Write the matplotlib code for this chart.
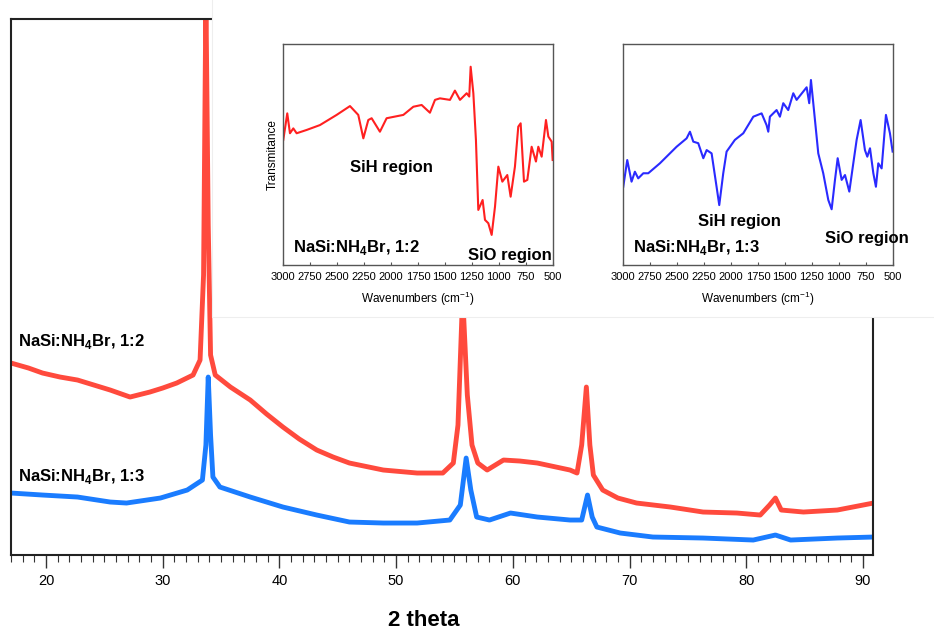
import matplotlib
matplotlib.use("Agg")
import matplotlib.pyplot as plt
from matplotlib.patches import Rectangle

plt.rcParams['font.family'] = ['Liberation Sans', 'DejaVu Sans']
plt.rcParams['mathtext.fontset'] = 'custom'
plt.rcParams['mathtext.rm'] = 'Liberation Sans'
plt.rcParams['mathtext.bf'] = 'Liberation Sans:bold'

# XRD patterns (2 theta, intensity in arbitrary units)
red_tt = [17.0, 18.5, 19.7, 21.2, 22.7, 24.1, 25.5, 27.2, 28.9, 30.0, 31.2, 32.6, 33.2, 33.5,
          33.7, 33.9, 34.1, 34.5, 35.8, 37.5, 38.9, 40.3, 41.7, 43.2, 44.6, 46.0, 48.9, 51.8,
          54.0, 54.9, 55.3, 55.7, 56.1, 56.5, 57.0, 57.8, 59.2, 60.6, 62.1, 64.9, 65.5, 65.9,
          66.3, 66.6, 66.9, 67.7, 69.0, 70.6, 73.5, 76.3, 79.2, 81.2, 82.0, 82.5, 83.0, 84.9,
          87.8, 90.9]
red_int = [192, 187, 182, 178, 175, 170, 165, 158, 163, 167, 172, 180, 195, 280,
           560, 330, 200, 180, 168, 155, 141, 128, 116, 105, 98, 92, 85, 82,
           82, 92, 130, 260, 160, 110, 92, 85, 95, 94, 92, 85, 82, 110,
           168, 110, 80, 65, 57, 52, 48, 43, 42, 40, 50, 57, 45, 43,
           45, 52]

blue_tt = [17.0, 19.7, 22.7, 25.5, 26.9, 29.8, 32.1, 33.4, 33.7, 33.9, 34.1, 34.3, 34.9,
           37.5, 40.3, 43.2, 46.0, 48.9, 51.8, 54.6, 55.5, 56.0, 56.4, 56.9, 58.0, 59.8,
           62.1, 64.9, 65.9, 66.4, 66.8, 67.2, 69.2, 72.0, 76.3, 80.6, 82.5, 83.8, 87.8, 90.9]
blue_int = [62, 60, 58, 53, 52, 57, 65, 75, 110, 178, 120, 78, 68,
            58, 48, 40, 33, 32, 32, 35, 50, 97, 65, 38, 35, 42,
            38, 35, 35, 60, 38, 28, 22, 18, 17, 15, 20, 15, 17, 18]

# IR spectra (wavenumber, transmittance a.u.)
ir12_wn = [3000, 2963, 2938, 2907, 2876, 2783, 2660, 2505, 2381, 2304, 2257, 2211, 2180,
           2103, 2041, 1886, 1793, 1716, 1639, 1592, 1546, 1453, 1407, 1360, 1298, 1274,
           1261, 1236, 1212, 1190, 1150, 1128, 1097, 1066, 1035, 1004, 967, 921, 890, 850,
           819, 797, 766, 735, 695, 655, 633, 602, 562, 540, 509, 500]
ir12_t = [56.6, 68.6, 59.6, 61.8, 59.6, 61.1, 63.3, 67.9, 71.9, 67.9, 57.3, 65.6, 66.4,
          60.3, 66.4, 67.9, 71.6, 72.4, 68.9, 74.7, 75.4, 74.7, 78.9, 74.7, 77.7, 76.2,
          89.7, 77.7, 56.6, 24.9, 29.4, 20.4, 18.9, 13.6, 26.4, 44.5, 37.7, 40.7, 30.9, 44.5,
          62.6, 64.1, 37.7, 38.5, 53.5, 46.8, 53.5, 49.0, 65.6, 58.1, 55.8, 47.5]

ir13_wn = [3000, 2963, 2923, 2892, 2861, 2814, 2768, 2660, 2505, 2412, 2381, 2350, 2304,
           2257, 2226, 2180, 2134, 2109, 2072, 2041, 1964, 1886, 1793, 1716, 1670, 1654,
           1639, 1577, 1546, 1515, 1469, 1422, 1391, 1298, 1274, 1258, 1230, 1190, 1144,
           1097, 1066, 1035, 1010, 973, 942, 902, 865, 834, 797, 757, 735, 710, 679, 655,
           633, 602, 562, 525, 500]
ir13_t = [35.4, 47.5, 37.7, 42.2, 39.2, 41.5, 41.5, 46.0, 53.5, 57.3, 60.3, 55.8, 55.1,
          48.3, 52.0, 50.5, 35.4, 27.1, 41.5, 51.3, 56.6, 59.6, 67.1, 68.6, 63.3, 60.3,
          67.1, 70.1, 67.1, 73.2, 70.1, 77.7, 74.7, 80.4, 73.2, 83.7, 70.1, 50.5, 41.5,
          29.4, 25.2, 38.5, 48.3, 38.5, 40.7, 33.2, 46.0, 56.6, 65.6, 52.0, 49.0, 52.8, 41.5, 35.4,
          46.0, 43.7, 67.9, 59.6, 51.3]

wn_ticks = [3000, 2750, 2500, 2250, 2000, 1750, 1500, 1250, 1000, 750, 500]

fig = plt.figure(figsize=(9.34, 6.30), dpi=100)

# main XRD axes
ax = fig.add_axes([0.01178, 0.119, 0.9229, 0.8508])
ax.plot(red_tt, red_int, color='#ff4a3d', lw=3.5, solid_joinstyle='round')
ax.plot(blue_tt, blue_int, color='#1a7cff', lw=3.5, solid_joinstyle='round')
ax.set_xlim(17.0, 90.86)
ax.set_ylim(0, 536)
ax.set_yticks([])
ax.set_xticks(range(20, 91, 10))
ax.set_xticks(range(17, 91), minor=True)
ax.tick_params(axis='x', which='major', length=9, width=1, color='#333333', pad=5, labelsize=10.5)
ax.tick_params(axis='x', which='minor', length=5, width=0.8, color='#333333')
for s in ax.spines.values():
    s.set_linewidth(1.5)
    s.set_color('#222222')
ax.text(0.0081, 0.399, r'NaSi:NH$_\mathbf{4}$Br, 1:2', transform=ax.transAxes,
        fontsize=12, fontweight='bold', va='center', ha='left')
ax.text(0.0081, 0.147, r'NaSi:NH$_\mathbf{4}$Br, 1:3', transform=ax.transAxes,
        fontsize=12, fontweight='bold', va='center', ha='left')
fig.text(424 / 934, 1 - 621 / 630, '2 theta', fontsize=16, fontweight='bold',
         ha='center', va='center')

# white panel holding the IR insets
fig.add_artist(Rectangle((0.227, 0.4968), 0.78, 0.51, transform=fig.transFigure,
                         facecolor='white', edgecolor='#eeeeee', lw=0.8, zorder=1))


def ir_inset(left, wn, t, color, label, sih_pos, sio_pos, ylabel):
    a = fig.add_axes([left, 0.5794, 0.2884, 0.3508])
    a.set_zorder(2)
    a.plot(wn, t, color=color, lw=1.5)
    a.set_xlim(3000, 500)
    a.set_ylim(0, 100)
    a.set_yticks([])
    a.set_xticks(wn_ticks)
    a.tick_params(axis='x', length=2, direction='in', pad=5, labelsize=8, color='#555555')
    for s in a.spines.values():
        s.set_linewidth(1)
        s.set_color('#555555')
    a.set_xlabel(r'Wavenumbers (cm$^{-1}$)', fontsize=8.5, labelpad=6)
    if ylabel:
        a.set_ylabel('Transmitance', fontsize=8.5, labelpad=3)
    a.text(sih_pos[0], sih_pos[1], 'SiH region', transform=a.transAxes, fontsize=12,
           fontweight='bold', ha='center', va='center')
    a.text(sio_pos[0], sio_pos[1], 'SiO region', transform=a.transAxes, fontsize=12,
           fontweight='bold', ha='center', va='center')
    a.text(0.037, 0.081, label, transform=a.transAxes, fontsize=12,
           fontweight='bold', ha='left', va='center')
    return a


ir_inset(0.3033, ir12_wn, ir12_t, '#ff2020', r'NaSi:NH$_\mathbf{4}$Br, 1:2',
         (0.403, 0.443), (0.841, 0.045), True)
ir_inset(0.6673, ir13_wn, ir13_t, '#2a2aff', r'NaSi:NH$_\mathbf{4}$Br, 1:3',
         (0.433, 0.195), (0.905, 0.122), False)

fig.savefig('out.png', dpi=100)
